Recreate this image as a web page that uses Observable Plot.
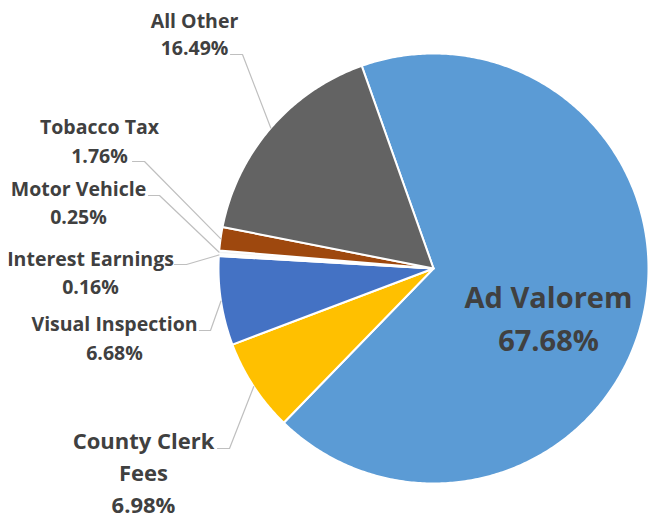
<!DOCTYPE html>
<html>
<head>
<meta charset="utf-8">
<script src="https://cdn.jsdelivr.net/npm/d3@7"></script>
<script src="https://cdn.jsdelivr.net/npm/@observablehq/plot@0.6"></script>
<style>
  html, body { margin: 0; padding: 0; background: #ffffff; }
  #chart svg { display: block; }
</style>
</head>
<body>
<div id="chart"></div>
<script>
// ---- data (clockwise order from the first slice) ----
const categories = ["Ad Valorem", "County Clerk Fees", "Visual Inspection", "Interest Earnings", "Motor Vehicle", "Tobacco Tax", "All Other"];
const shares = [67.68, 6.98, 6.68, 0.16, 0.25, 1.76, 16.49];
const labelNames = ["Ad Valorem", "County Clerk\nFees", "Visual Inspection", "Interest Earnings", "Motor Vehicle", "Tobacco Tax", "All Other"];
const sliceColors = ["#5B9BD5", "#FFC000", "#4472C4", "#F4F4F4", "#F4F4F4", "#9E480E", "#636363"];

// ---- layout ----
const W = 650, H = 520;
const cx = 433, cy = 268, R = 215;
const startDeg = -19.5;
// label anchors: center x, first baseline y, line gap, font size, leader elbow [x0, x1, y] (null = inside)
const labelLayout = [
  {x: 548, y: 307, gap: 43, size: 29, leader: null},
  {x: 143, y: 448, gap: 32, size: 22, leader: [217, 229, 448]},
  {x: 114, y: 330, gap: 29, size: 19.5, leader: [199, 210, 330]},
  {x: 90,  y: 265, gap: 28, size: 19.5, leader: [174, 186, 264]},
  {x: 78,  y: 195, gap: 28, size: 19.5, leader: [148, 159, 195]},
  {x: 99,  y: 133, gap: 29, size: 19.5, leader: [132, 144, 161]},
  {x: 194, y: 27,  gap: 27, size: 19.5, leader: [230, 242, 54]}
];

const pie = d3.pie().sort(null).value(d => d.value)
  .startAngle(startDeg * Math.PI / 180)
  .endAngle((startDeg + 360) * Math.PI / 180);
const rows = categories.map((c, i) => ({name: c, value: shares[i], i}));
const arcs = pie(rows);

const px = a => cx + R * Math.sin(a);
const py = a => cy - R * Math.cos(a);

// slice polygons
const slicePts = [];
for (const a of arcs) {
  const n = Math.max(2, Math.ceil((a.endAngle - a.startAngle) / 0.01));
  slicePts.push({name: a.data.name, x: cx, y: cy});
  for (let k = 0; k <= n; k++) {
    const t = a.startAngle + (a.endAngle - a.startAngle) * k / n;
    slicePts.push({name: a.data.name, x: px(t), y: py(t)});
  }
  slicePts.push({name: a.data.name, x: cx, y: cy});
}

// leader lines
const leaderPts = [];
arcs.forEach((a, i) => {
  const L = labelLayout[i].leader;
  if (!L) return;
  const mid = (a.startAngle + a.endAngle) / 2;
  leaderPts.push({name: a.data.name, x: L[0], y: L[2]});
  leaderPts.push({name: a.data.name, x: L[1], y: L[2]});
  leaderPts.push({name: a.data.name, x: px(mid), y: py(mid)});
});

// label lines
const textRows = [];
arcs.forEach((a, i) => {
  const lay = labelLayout[i];
  const lines = labelNames[i].split("\n").concat([shares[i].toFixed(2) + "%"]);
  lines.forEach((s, k) => textRows.push({t: s, x: lay.x, y: lay.y + k * lay.gap, size: lay.size}));
});

const fonts = "'Open Sans', 'Noto Sans', sans-serif";
const marks = [
  Plot.line(slicePts, {x: "x", y: "y", z: "name", fill: "name", stroke: "#ffffff", strokeWidth: 2, strokeLinejoin: "round", curve: "linear"}),
  Plot.line(leaderPts, {x: "x", y: "y", z: "name", stroke: "#BFBFBF", strokeWidth: 1.2, curve: "linear"})
];
for (const sz of [...new Set(textRows.map(d => d.size))]) {
  marks.push(Plot.text(textRows.filter(d => d.size === sz), {
    x: "x", y: "y", text: "t", fontSize: sz, fontWeight: 700, fill: "#404040",
    textAnchor: "middle", lineAnchor: "bottom", fontFamily: fonts
  }));
}

const chart = Plot.plot({
  width: W, height: H,
  margin: 0,
  x: {domain: [0, W], range: [0, W], axis: null},
  y: {domain: [0, H], range: [0, H], axis: null},
  color: {domain: categories, range: sliceColors},
  style: {background: "#ffffff", fontFamily: fonts},
  marks
});
document.getElementById("chart").appendChild(chart);
</script>
</body>
</html>
